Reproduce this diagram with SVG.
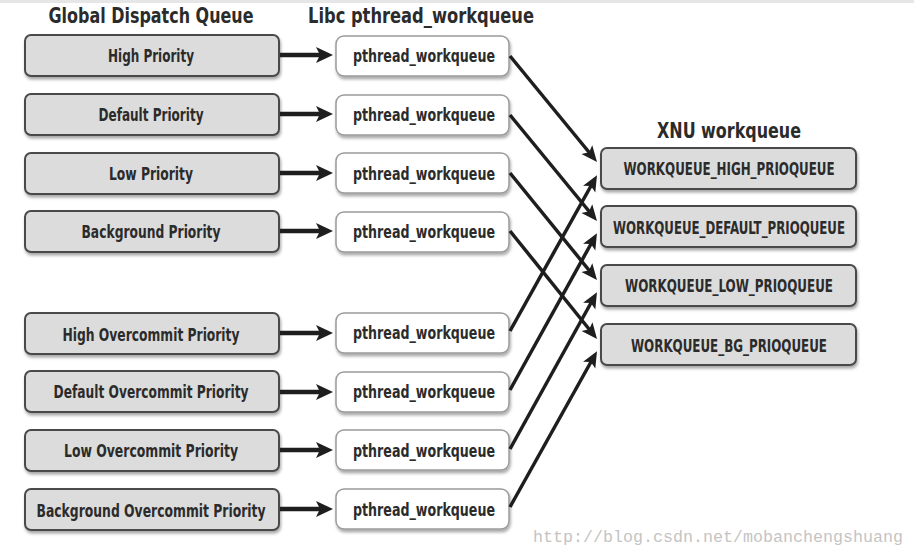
<svg xmlns="http://www.w3.org/2000/svg" width="914" height="555" viewBox="0 0 914 555">
<style>
.t{font-family:"DejaVu Sans Condensed","Liberation Sans",sans-serif;font-weight:bold;fill:#2b2b2b;text-anchor:middle}
.title{font-size:22px}
.lbl{font-size:18px}
.gbox{fill:#dcdcdc;stroke:#4a4a4a;stroke-width:2}
.wbox{fill:#ffffff;stroke:#9a9a9a;stroke-width:1.5}
.h{stroke:#1e1e1e;stroke-width:4.5;fill:none}
.d{stroke:#1e1e1e;stroke-width:3.5;fill:none}
.wm{font-family:"Liberation Mono","DejaVu Sans Mono",monospace;font-size:16px;fill:#c4c4c4}
</style>
<defs>
<filter id="sh" x="-10%" y="-20%" width="120%" height="160%">
<feDropShadow dx="1" dy="2.5" stdDeviation="1.8" flood-color="#000" flood-opacity="0.35"/>
</filter>
<marker id="ah" markerUnits="userSpaceOnUse" markerWidth="18" markerHeight="18" refX="6" refY="8" orient="auto">
<path d="M0,0 L17,8 L0,16 L4,8 z" fill="#1e1e1e"/>
</marker>
<marker id="ad" markerUnits="userSpaceOnUse" markerWidth="18" markerHeight="16" refX="7" refY="7" orient="auto">
<path d="M0,0 L16,7 L0,14 L3.5,7 z" fill="#1e1e1e"/>
</marker>
</defs>
<rect x="0" y="0" width="914" height="555" fill="#ffffff"/>
<rect x="0" y="0" width="914" height="3" fill="#e6e6e6"/>

<text class="t title" x="151" y="23" textLength="205" lengthAdjust="spacingAndGlyphs">Global Dispatch Queue</text>
<text class="t title" x="421" y="23" textLength="226" lengthAdjust="spacingAndGlyphs">Libc pthread_workqueue</text>
<text class="t title" x="729" y="138" textLength="144" lengthAdjust="spacingAndGlyphs">XNU workqueue</text>

<g id="gdq-high"><rect class="gbox" x="25" y="35" width="254" height="41" rx="6" filter="url(#sh)"/><text class="t lbl" x="151" y="62" textLength="86" lengthAdjust="spacingAndGlyphs">High Priority</text></g>
<g id="gdq-default"><rect class="gbox" x="25" y="94" width="254" height="41" rx="6" filter="url(#sh)"/><text class="t lbl" x="151" y="121" textLength="105" lengthAdjust="spacingAndGlyphs">Default Priority</text></g>
<g id="gdq-low"><rect class="gbox" x="25" y="153" width="254" height="41" rx="6" filter="url(#sh)"/><text class="t lbl" x="151" y="180" textLength="84" lengthAdjust="spacingAndGlyphs">Low Priority</text></g>
<g id="gdq-bg"><rect class="gbox" x="25" y="211" width="254" height="41" rx="6" filter="url(#sh)"/><text class="t lbl" x="151" y="238" textLength="139" lengthAdjust="spacingAndGlyphs">Background Priority</text></g>
<g id="gdq-high-oc"><rect class="gbox" x="25" y="313" width="254" height="41" rx="6" filter="url(#sh)"/><text class="t lbl" x="151" y="341" textLength="177" lengthAdjust="spacingAndGlyphs">High Overcommit Priority</text></g>
<g id="gdq-default-oc"><rect class="gbox" x="25" y="371" width="254" height="41" rx="6" filter="url(#sh)"/><text class="t lbl" x="151" y="398" textLength="195" lengthAdjust="spacingAndGlyphs">Default Overcommit Priority</text></g>
<g id="gdq-low-oc"><rect class="gbox" x="25" y="430" width="254" height="41" rx="6" filter="url(#sh)"/><text class="t lbl" x="151" y="457" textLength="174" lengthAdjust="spacingAndGlyphs">Low Overcommit Priority</text></g>
<g id="gdq-bg-oc"><rect class="gbox" x="25" y="489" width="254" height="41" rx="6" filter="url(#sh)"/><text class="t lbl" x="151" y="517" textLength="229" lengthAdjust="spacingAndGlyphs">Background Overcommit Priority</text></g>

<g id="pw1"><rect class="wbox" x="336" y="36" width="173" height="40" rx="8" filter="url(#sh)"/><text class="t lbl" x="424" y="62" textLength="142" lengthAdjust="spacingAndGlyphs">pthread_workqueue</text></g>
<g id="pw2"><rect class="wbox" x="336" y="95" width="173" height="40" rx="8" filter="url(#sh)"/><text class="t lbl" x="424" y="121" textLength="142" lengthAdjust="spacingAndGlyphs">pthread_workqueue</text></g>
<g id="pw3"><rect class="wbox" x="336" y="153" width="173" height="40" rx="8" filter="url(#sh)"/><text class="t lbl" x="424" y="180" textLength="142" lengthAdjust="spacingAndGlyphs">pthread_workqueue</text></g>
<g id="pw4"><rect class="wbox" x="336" y="212" width="173" height="40" rx="8" filter="url(#sh)"/><text class="t lbl" x="424" y="238" textLength="142" lengthAdjust="spacingAndGlyphs">pthread_workqueue</text></g>
<g id="pw5"><rect class="wbox" x="336" y="313" width="173" height="40" rx="8" filter="url(#sh)"/><text class="t lbl" x="424" y="339" textLength="142" lengthAdjust="spacingAndGlyphs">pthread_workqueue</text></g>
<g id="pw6"><rect class="wbox" x="336" y="372" width="173" height="40" rx="8" filter="url(#sh)"/><text class="t lbl" x="424" y="398" textLength="142" lengthAdjust="spacingAndGlyphs">pthread_workqueue</text></g>
<g id="pw7"><rect class="wbox" x="336" y="430" width="173" height="40" rx="8" filter="url(#sh)"/><text class="t lbl" x="424" y="457" textLength="142" lengthAdjust="spacingAndGlyphs">pthread_workqueue</text></g>
<g id="pw8"><rect class="wbox" x="336" y="489" width="173" height="40" rx="8" filter="url(#sh)"/><text class="t lbl" x="424" y="516" textLength="142" lengthAdjust="spacingAndGlyphs">pthread_workqueue</text></g>

<g id="xnu-high"><rect class="gbox" x="601" y="148" width="255" height="41" rx="6" filter="url(#sh)"/><text class="t lbl" x="729" y="175" textLength="211" lengthAdjust="spacingAndGlyphs">WORKQUEUE_HIGH_PRIOQUEUE</text></g>
<g id="xnu-default"><rect class="gbox" x="601" y="206" width="255" height="41" rx="6" filter="url(#sh)"/><text class="t lbl" x="729" y="234" textLength="232" lengthAdjust="spacingAndGlyphs">WORKQUEUE_DEFAULT_PRIOQUEUE</text></g>
<g id="xnu-low"><rect class="gbox" x="601" y="265" width="255" height="41" rx="6" filter="url(#sh)"/><text class="t lbl" x="729" y="292" textLength="208" lengthAdjust="spacingAndGlyphs">WORKQUEUE_LOW_PRIOQUEUE</text></g>
<g id="xnu-bg"><rect class="gbox" x="601" y="324" width="255" height="41" rx="6" filter="url(#sh)"/><text class="t lbl" x="729" y="352" textLength="196" lengthAdjust="spacingAndGlyphs">WORKQUEUE_BG_PRIOQUEUE</text></g>

<g id="connectors">
<line class="h" x1="280" y1="55" x2="322" y2="55" marker-end="url(#ah)"/>
<line class="h" x1="280" y1="114" x2="322" y2="114" marker-end="url(#ah)"/>
<line class="h" x1="280" y1="173" x2="322" y2="173" marker-end="url(#ah)"/>
<line class="h" x1="280" y1="231" x2="322" y2="231" marker-end="url(#ah)"/>
<line class="h" x1="280" y1="333" x2="322" y2="333" marker-end="url(#ah)"/>
<line class="h" x1="280" y1="392" x2="322" y2="392" marker-end="url(#ah)"/>
<line class="h" x1="280" y1="450" x2="322" y2="450" marker-end="url(#ah)"/>
<line class="h" x1="280" y1="509" x2="322" y2="509" marker-end="url(#ah)"/>

<line class="d" x1="510" y1="56" x2="591.3" y2="155" marker-end="url(#ad)"/>
<line class="d" x1="510" y1="115" x2="591.3" y2="214" marker-end="url(#ad)"/>
<line class="d" x1="510" y1="173" x2="591.3" y2="273" marker-end="url(#ad)"/>
<line class="d" x1="510" y1="231" x2="591.4" y2="332" marker-end="url(#ad)"/>
<line class="d" x1="510" y1="331" x2="592.6" y2="183" marker-end="url(#ad)"/>
<line class="d" x1="510" y1="390" x2="592.6" y2="241" marker-end="url(#ad)"/>
<line class="d" x1="510" y1="449" x2="592.6" y2="300" marker-end="url(#ad)"/>
<line class="d" x1="510" y1="507" x2="592.6" y2="359" marker-end="url(#ad)"/>
</g>

<text class="wm" x="533" y="542" textLength="370" lengthAdjust="spacingAndGlyphs">http://blog.csdn.net/mobanchengshuang</text>
</svg>
